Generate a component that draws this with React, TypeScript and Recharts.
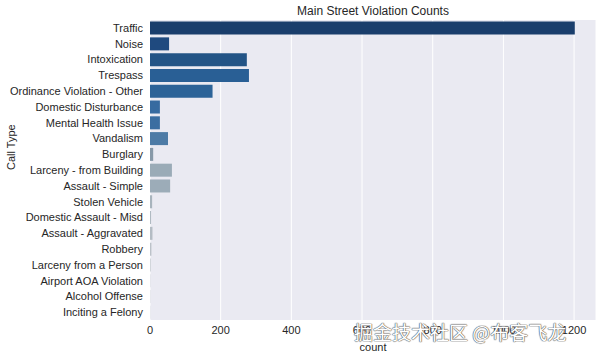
import { Bar, BarChart, CartesianGrid, Cell, XAxis, YAxis } from 'recharts';

const callTypes = [
  'Traffic',
  'Noise',
  'Intoxication',
  'Trespass',
  'Ordinance Violation - Other',
  'Domestic Disturbance',
  'Mental Health Issue',
  'Vandalism',
  'Burglary',
  'Larceny - from Building',
  'Assault - Simple',
  'Stolen Vehicle',
  'Domestic Assault - Misd',
  'Assault - Aggravated',
  'Robbery',
  'Larceny from a Person',
  'Airport AOA Violation',
  'Alcohol Offense',
  'Inciting a Felony',
];

const counts = [1202, 54, 274, 280, 177, 28, 28, 51, 9, 62, 57, 6, 3, 7, 4, 2, 1, 1, 1];

const xTicks = [0, 200, 400, 600, 800, 1000, 1200];

const palette = [
  '#1a3e6c', '#1f4a7f', '#235486', '#295f95', '#2c6398', '#376ba0',
  '#3b6ea1', '#4d7ba6', '#8799a8', '#9aabb7', '#9cacb8', '#a8b4bd',
  '#b0bac2', '#b4bcc4', '#bcc2c9', '#c4c9cf', '#cdd0d6', '#d2d5da', '#d8dadf',
];

const data = callTypes.map((name, i) => ({ name, count: counts[i] }));

const font = '"Liberation Sans", Arial, sans-serif';

function CategoryTick(props: any) {
  const { x, y, payload } = props;
  return (
    <text x={x} y={y} textAnchor="end" dominantBaseline="central" fontSize={11} fill="#262626" fontFamily={font}>
      {payload.value}
    </text>
  );
}

export default function App() {
  return (
    <div style={{ position: 'absolute', left: 0, top: 0, width: 603, height: 357, background: '#fff', fontFamily: font }}>
      <BarChart
        width={603}
        height={357}
        data={data}
        layout="vertical"
        margin={{ top: 20, right: 7, bottom: 0, left: 0 }}
        barCategoryGap="10%"
      >
        <CartesianGrid fill="#eaeaf2" stroke="#ffffff" strokeWidth={1} horizontal={false} />
        <XAxis
          type="number"
          dataKey="count"
          domain={[0, 1262]}
          ticks={xTicks}
          height={37}
          axisLine={false}
          tickLine={false}
          tickSize={0}
          tickMargin={6}
          tick={{ fontSize: 11, fill: '#262626', fontFamily: font }}
          label={{ value: 'count', position: 'insideBottom', offset: 6, fontSize: 11, fill: '#262626', fontFamily: font }}
        />
        <YAxis
          type="category"
          dataKey="name"
          width={150}
          axisLine={false}
          tickLine={false}
          tickSize={0}
          tickMargin={7}
          interval={0}
          tick={<CategoryTick />}
          label={{ value: 'Call Type', angle: -90, position: 'insideLeft', offset: 11, fontSize: 11, fill: '#262626', fontFamily: font }}
        />
        <Bar dataKey="count" isAnimationActive={false}>
          {data.map((d, i) => (
            <Cell key={d.name} fill={palette[i]} />
          ))}
        </Bar>
      </BarChart>
      <div style={{ position: 'absolute', left: 150, width: 446, top: 4, textAlign: 'center', fontSize: 12, color: '#262626' }}>
        Main Street Violation Counts
      </div>
      <div
        style={{
          position: 'absolute',
          left: 354,
          top: 320,
          fontSize: 19,
          fontFamily: '"Noto Sans CJK SC", sans-serif',
          color: '#ffffff',
          textShadow: '0 0 1px #555, 0 0 1px #555, 0 0 1px #555',
          lineHeight: '24px',
        }}
      >
        掘金技术社区 @布客飞龙
      </div>
    </div>
  );
}
